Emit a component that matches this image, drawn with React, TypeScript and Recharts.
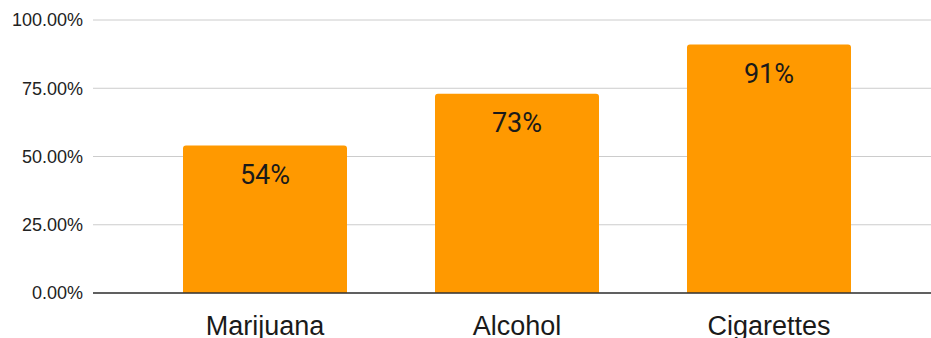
import { BarChart, Bar, XAxis, YAxis, CartesianGrid, LabelList } from 'recharts'

const categories = ['Marijuana', 'Alcohol', 'Cigarettes']
const shares = [0.54, 0.73, 0.91]
const yTicks = [0, 0.25, 0.5, 0.75, 1]

const data = categories.map((name, i) => ({ name, value: shares[i] }))

const pct2 = (v: number) => (v * 100).toFixed(2) + '%'

const BarLabel = (props: any) => {
  const { x, y, width, value } = props
  return (
    <text
      x={x + width / 2}
      y={y + 38}
      textAnchor="middle"
      fontFamily="Roboto, sans-serif"
      fontSize={27}
      fill="#1a1a1a"
    >
      {Math.round(value * 100) + '%'}
    </text>
  )
}

const App = () => {
  return (
    <div style={{ position: 'absolute', left: 0, top: 0, background: '#fff' }}>
      <BarChart
        width={931}
        height={338}
        data={data}
        margin={{ top: 20, right: 0, bottom: 0, left: 0 }}
        barSize={164}
      >
        <CartesianGrid vertical={false} stroke="#cccccc" />
        <XAxis
          dataKey="name"
          height={45}
          padding={{ left: 46, right: 36 }}
          tickLine={false}
          tickSize={0}
          tickMargin={23}
          axisLine={{ stroke: '#333333', strokeWidth: 1.5 }}
          tick={{ fontSize: 27, fill: '#1a1a1a', fontFamily: 'Liberation Sans, Arial, sans-serif' }}
          interval={0}
        />
        <YAxis
          width={93}
          domain={[0, 1]}
          ticks={yTicks}
          tickFormatter={pct2}
          axisLine={false}
          tickLine={false}
          tickSize={0}
          tickMargin={10}
          tick={{ fontSize: 18, fill: '#222222', fontFamily: 'Liberation Sans, Arial, sans-serif' }}
        />
        <Bar dataKey="value" fill="#ff9900" radius={[3, 3, 0, 0]} isAnimationActive={false}>
          <LabelList dataKey="value" content={BarLabel} />
        </Bar>
      </BarChart>
    </div>
  )
}

export default App
